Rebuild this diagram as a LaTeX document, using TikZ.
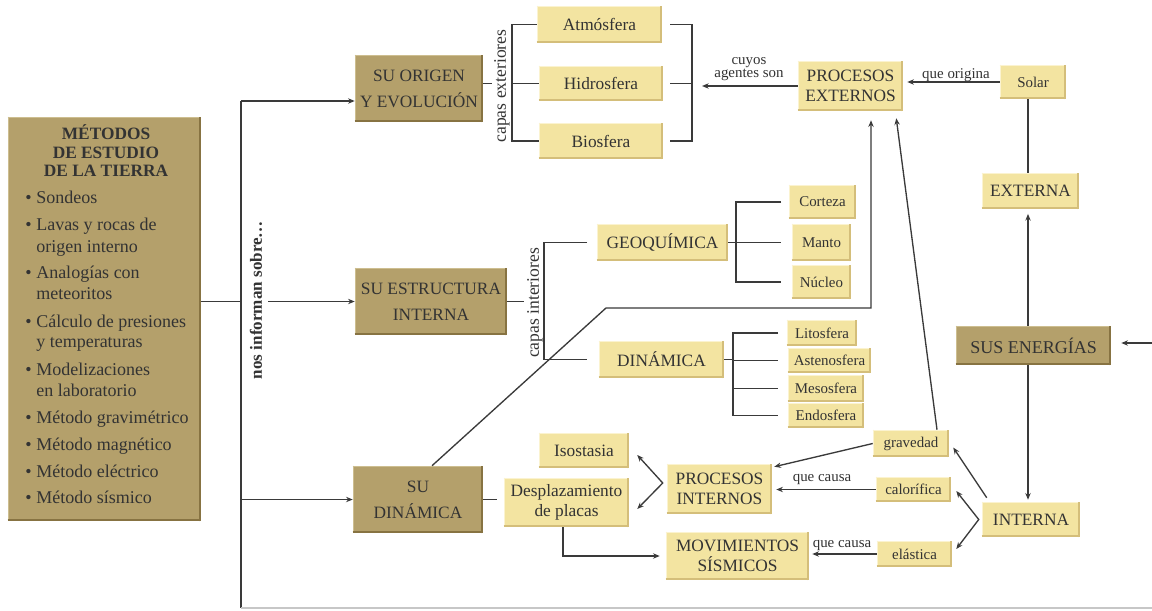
\documentclass[tikz,border=0pt]{standalone}
\usepackage{fontspec}
\setmainfont{Liberation Serif}
\usetikzlibrary{arrows.meta,calc}
\definecolor{lf}{HTML}{F3E4A1}
\definecolor{lfh}{HTML}{FBF3D0}
\definecolor{lfs}{HTML}{D4BE7A}
\definecolor{df}{HTML}{B4A06B}
\definecolor{dfh}{HTML}{CDBE90}
\definecolor{dfs}{HTML}{877342}
\definecolor{ink}{HTML}{333333}
\definecolor{lnc}{HTML}{3A3A3A}
\tikzset{
 bevel/.style n args={3}{fill=#1, append after command={
   ([yshift=-0.6pt]\tikzlastnode.north west) edge[draw=#2,line width=1.2pt] ([yshift=-0.6pt]\tikzlastnode.north east)
   ([xshift=0.6pt]\tikzlastnode.north west) edge[draw=#2,line width=1.2pt] ([xshift=0.6pt]\tikzlastnode.south west)
   ([yshift=0.9pt]\tikzlastnode.south west) edge[draw=#3,line width=1.8pt] ([yshift=0.9pt]\tikzlastnode.south east)
   ([xshift=-0.9pt]\tikzlastnode.south east) edge[draw=#3,line width=1.8pt] ([xshift=-0.9pt]\tikzlastnode.north east)
 }},
 sz/.style 2 args={minimum width=#1*0.75pt, minimum height=#2*0.75pt},
 dbox/.style={bevel={df}{dfh}{dfs}, text=ink, inner sep=0pt, align=center, font=\fontsize{13}{19.5}\selectfont},
 lbox/.style={bevel={lf}{lfh}{lfs}, text=ink, inner sep=0pt, align=center, font=\fontsize{13}{14.6}\selectfont},
 sbox/.style={lbox, font=\fontsize{11.2}{13}\selectfont},
 lbl/.style={text=ink, inner sep=0pt, align=center, font=\fontsize{11.2}{10}\selectfont},
 rot/.style={text=ink, inner sep=0pt, rotate=90, font=\fontsize{13.2}{13}\selectfont},
 listtxt/.style={text=ink, inner sep=0pt, anchor=base west, font=\fontsize{13.5}{16}\selectfont},
 ln/.style={draw=lnc, line width=1pt},
 arr/.style={ln, -{Stealth[length=5pt,width=4pt]}},
 darr/.style={ln, {Stealth[length=5pt,width=4pt]}-{Stealth[length=5pt,width=4pt]}},
}
\begin{document}
\begin{tikzpicture}[x=0.75pt, y=-0.75pt]
\fill[white] (0,0) rectangle (1152,610);
\useasboundingbox (0,0) rectangle (1152,610);

% left box
\node[dbox, sz={193}{404}] (metodos) at (104.5,319) {};
\node[text=ink, inner sep=0pt, align=center, font=\bfseries\fontsize{13}{13.9}\selectfont] (mtitle) at (106,151) {MÉTODOS\\DE ESTUDIO\\DE LA TIERRA};
\foreach \yy/\tt [count=\i] in {203/Sondeos, 230/Lavas y rocas de, 278/Analogías con, 327/Cálculo de presiones, 375/Modelizaciones, 423/Método gravimétrico, 450/Método magnético, 477/Método eléctrico, 503/Método sísmico}
  \node[listtxt] (mb\i) at (36,\yy) {\llap{\textbullet\hspace{3.5pt}}\tt};
\foreach \yy/\tt [count=\i] in {252/origen interno, 299/meteoritos, 347/y temperaturas, 396/en laboratorio}
  \node[listtxt] (mc\i) at (36,\yy) {\tt};

% dark boxes
\node[dbox, sz={128}{67}] (origen) at (419,88.5) {SU ORIGEN\\Y EVOLUCIÓN};
\node[dbox, sz={152}{67}] (estructura) at (431,301.5) {SU ESTRUCTURA\\INTERNA};
\node[dbox, sz={130}{67}] (sudin) at (418,499.5) {SU\\DINÁMICA};
\node[dbox, sz={155}{39}, font=\fontsize{13.5}{16}\selectfont] (energias) at (1033.5,345.5) {SUS ENERGÍAS};

% light boxes
\node[lbox, sz={125}{37}] (atm) at (599.5,24.5) {Atmósfera};
\node[lbox, sz={124}{35}] (hidro) at (601,83.5) {Hidrosfera};
\node[lbox, sz={124}{36}] (bio) at (601,141) {Biosfera};
\node[lbox, sz={105}{50}] (pext) at (850.5,86) {PROCESOS\\EXTERNOS};
\node[sbox, sz={66}{34}] (solar) at (1033,82) {Solar};
\node[lbox, sz={97}{36}] (externa) at (1030.5,191) {EXTERNA};
\node[lbox, sz={131}{37}] (geoq) at (662.5,242.5) {GEOQUÍMICA};
\node[sbox, sz={67}{34}] (corteza) at (822.5,202) {Corteza};
\node[sbox, sz={59}{37}] (manto) at (821.5,242.5) {Manto};
\node[sbox, sz={59}{34}] (nucleo) at (821.5,282) {Núcleo};
\node[lbox, sz={125}{37}] (dinam) at (661.5,359.5) {DINÁMICA};
\node[sbox, sz={70}{26}] (lito) at (822,333) {Litosfera};
\node[sbox, sz={83}{25}] (asteno) at (829.5,360.5) {Astenosfera};
\node[sbox, sz={76}{27}] (meso) at (826,388.5) {Mesosfera};
\node[sbox, sz={76}{25}] (endo) at (826,415.5) {Endosfera};
\node[lbox, sz={90}{35}] (iso) at (584,450.5) {Isostasia};
\node[lbox, sz={125}{49}] (despl) at (566.5,502.5) {Desplazamiento\\de placas};
\node[lbox, sz={105}{50}] (pint) at (719.5,489) {PROCESOS\\INTERNOS};
\node[lbox, sz={143}{48}] (movs) at (737.5,556) {MOVIMIENTOS\\SÍSMICOS};
\node[sbox, sz={76}{27}] (grav) at (911,443.5) {gravedad};
\node[sbox, sz={75}{25}] (calor) at (913.5,489.5) {calorífica};
\node[sbox, sz={75}{26}] (elast) at (914.5,554) {elástica};
\node[lbox, sz={98}{35}] (interna) at (1031,519.5) {INTERNA};

% labels
\node[lbl] (lcuyos) at (749,69) {cuyos\\agentes son};
\node[lbl] (lorig) at (956,75) {que origina};
\node[lbl] (lcausa1) at (822,479) {que causa};
\node[lbl] (lcausa2) at (842,545) {que causa};
\node[rot] (capext) at (502,86) {capas exteriores};
\node[rot] (capint) at (535,303) {capas interiores};
\node[rot, font=\bfseries\fontsize{12.8}{13}\selectfont] (nos) at (256,300) {nos informan sobre…};

% coordinates
\coordinate (tt) at (241,101);
\coordinate (tb) at (241,608);
\coordinate (br) at (1152,608);
\coordinate (ms) at (268,0);
\coordinate (re) at (1152,343);
\coordinate (oe) at (492,0);
\coordinate (bx) at (512,0);
\coordinate (r1) at (670,0);
\coordinate (r2) at (692,0);
\coordinate (ra) at (702,0);
\coordinate (vx) at (1028,0);
\coordinate (k1) at (606,308);
\coordinate (k2) at (871,308);
\coordinate (sd) at (497,0);
\coordinate (se) at (524,0);
\coordinate (ib) at (544,0);
\coordinate (ie) at (587,0);
\coordinate (gb) at (736,0);
\coordinate (ge) at (781,0);
\coordinate (db) at (733,0);
\coordinate (de) at (778,0);

% trunk
\draw[ln] (tt) -- (tb);
\draw[draw=black!22, line width=1.2pt] (tb) -- (br);
\draw[arr] (tt) -- (tt -| origen.west);
\draw[ln] (metodos.east |- estructura.west) -- (tt |- estructura.west);
\draw[arr] (ms |- estructura.west) -- (estructura.west);
\draw[arr] (tt |- sudin.west) -- (sudin.west);

% capas exteriores
\draw[ln] (origen.east |- hidro.west) -- (oe |- hidro.west);
\draw[ln] (atm.west) -- (bx |- atm.west) -- (bx |- bio.west) -- (bio.west);
\draw[ln] (bx |- hidro.west) -- (hidro.west);
\draw[ln] (r1 |- atm.east) -- (r2 |- atm.east) -- (r2 |- bio.east) -- (r1 |- bio.east);
\draw[ln] (r1 |- hidro.east) -- (r2 |- hidro.east);
\draw[arr] (pext.west) -- (ra |- pext.west);

% energias
\draw[arr, shorten >=3pt] (solar.west) -- (solar.west -| pext.east);
\draw[ln] (vx |- solar.south) -- (vx |- externa.north);
\draw[arr, shorten >=3.5pt] (vx |- energias.north) -- (vx |- externa.south);
\draw[arr, shorten >=1.5pt] (vx |- energias.south) -- (vx |- interna.north);
\draw[arr, shorten >=7.5pt] (re) -- (re -| energias.east);

% interna fan
\draw[arr] ([shift={(5,-4)}]interna.north west) -- ([shift={(4,4)}]grav.east);
\draw[darr] ([shift={(5,1.5)}]calor.east) -- ([xshift=-2.25pt]interna.west) -- ([shift={(4,-5)}]elast.east);
\draw[arr] ([xshift=19.5pt]grav.north) -- ([shift={(-7,7)}]pext.south east);
\draw[arr] ([xshift=10.5pt]sudin.north) -- (k1) -- (k2) -- ([shift={(20.5,9)}]pext.south);
\draw[arr] (grav.west) -- ([shift={(2,3)}]pint.north east);
\draw[arr, shorten >=3pt] (calor.west) -- (calor.west -| pint.east);
\draw[arr, shorten >=2.25pt] (elast.west) -- (elast.west -| movs.east);

% procesos internos fan
\draw[darr] ([shift={(8,4.5)}]iso.east) -- ([shift={(-4,-6)}]pint.west) -- ([shift={(8,6.5)}]despl.east);
\draw[arr, shorten >=4.5pt] ([xshift=-2.6pt]despl.south) |- (movs.west);

% estructura
\draw[ln] (sudin.east) -- (sd |- sudin.east);
\draw[ln] (estructura.east) -- (se |- estructura.east);
\draw[ln] (ie |- geoq.west) -- (ib |- geoq.west) -- (ib |- dinam.west) -- (ie |- dinam.west);
\draw[ln] (geoq.east) -- (gb |- geoq.east);
\draw[ln] (ge |- corteza.west) -- (gb |- corteza.west) -- (gb |- nucleo.west) -- (ge |- nucleo.west);
\draw[ln] (gb |- manto.west) -- (ge |- manto.west);
\draw[ln] (dinam.east) -- (db |- dinam.east);
\draw[ln] (de |- lito.west) -- (db |- lito.west) -- (db |- endo.west) -- (de |- endo.west);
\draw[ln] (db |- asteno.west) -- (de |- asteno.west);
\draw[ln] (db |- meso.west) -- (de |- meso.west);
\end{tikzpicture}
\end{document}
